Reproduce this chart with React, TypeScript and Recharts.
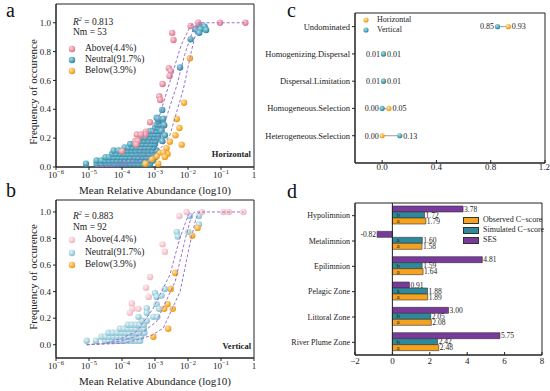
import React from "react";
import {
  Bar,
  BarChart,
  LabelList,
  Legend,
  ReferenceArea,
  ReferenceLine,
  Scatter,
  ScatterChart,
  XAxis,
  YAxis,
} from "recharts";

const FONT = "'Liberation Serif', 'DejaVu Serif', serif";
const INK = "#222";
const ORANGE = "#F5A31E";
const TEAL = "#2E8A9B";
const PURPLE = "#7A3A9C";
const DASH = "#9B72CF";

// ---- panels a / b: x = log10(mean relative abundance), y = frequency of occurence
const logTicks = [-6, -5, -4, -3, -2, -1, 0];
const freqTicks = [0, 0.2, 0.4, 0.6, 0.8, 1.0];

const aboveA: [number, number][] = [
  [-1.69, 1.0], [-1.03, 1.0], [-0.26, 1.0], [-1.92, 0.977], [-2.48, 0.93], [-2.44, 0.88],
  [-2.58, 0.685], [-2.52, 0.665], [-2.56, 0.63], [-2.77, 0.575], [-2.87, 0.49], [-2.84, 0.465],
  [-3.15, 0.31], [-3.28, 0.245], [-3.3, 0.225], [-3.55, 0.225], [-3.42, 0.225], [-3.6, 0.18],
  [-3.52, 0.18], [-3.57, 0.155], [-4.0, 0.11],
];
const neutralTopA: [number, number][] = [
  [-1.66, 0.986], [-1.5, 0.975], [-1.78, 0.955], [-1.7, 0.945], [-1.62, 0.955], [-1.45, 0.95],
  [-1.66, 0.93], [-1.92, 0.885], [-2.24, 0.69], [-2.78, 0.395], [-2.9, 0.335], [-2.75, 0.335],
  [-2.72, 0.29], [-2.8, 0.25], [-2.7, 0.22], [-2.78, 0.18],
];
const neutralRowsA: [number, number[]][] = [
  [0.023, [-5.09, -4.77, -4.62, -4.47, -4.35, -4.22, -4.1, -3.98, -3.86, -3.74, -3.62, -3.5, -3.38, -3.26, -3.15]],
  [0.045, [-4.77, -4.62, -4.5, -4.38, -4.26, -4.14, -4.02, -3.9, -3.78, -3.66, -3.54, -3.42, -3.3, -3.18, -3.06]],
  [0.068, [-4.5, -4.38, -4.25, -4.12, -4.0, -3.88, -3.75, -3.62, -3.5, -3.38, -3.25, -3.12, -3.0]],
  [0.091, [-4.3, -4.18, -4.05, -3.92, -3.8, -3.68, -3.55, -3.42, -3.3, -3.18, -3.05, -2.95]],
  [0.114, [-4.25, -4.1, -3.95, -3.82, -3.7, -3.58, -3.45, -3.32, -3.2, -3.08, -2.95]],
  [0.136, [-3.92, -3.8, -3.68, -3.55, -3.42, -3.3, -3.18, -3.05]],
  [0.159, [-3.75, -3.62, -3.5, -3.38, -3.25, -3.12, -3.0]],
  [0.182, [-3.45, -3.32, -3.2, -3.08, -2.98]],
  [0.205, [-3.4, -3.28, -3.15, -3.02, -2.9]],
  [0.227, [-3.22, -3.1, -3.0, -2.9]],
  [0.25, [-3.15, -3.05, -2.95, -2.85]],
  [0.273, [-3.0, -2.9, -2.8]],
  [0.295, [-2.95, -2.85]],
  [0.318, [-2.9]],
  [0.341, [-2.95]],
];
const belowA: [number, number][] = [
  [-1.94, 0.754], [-2.12, 0.445], [-2.34, 0.333], [-2.26, 0.27], [-2.38, 0.22], [-2.19, 0.155],
  [-2.55, 0.175], [-2.65, 0.13], [-2.62, 0.09], [-2.85, 0.1], [-2.75, 0.1], [-2.7, 0.07],
  [-2.95, 0.075], [-3.1, 0.055], [-2.9, 0.023], [-3.29, 0.023],
];
const upperA: [number, number][] = [
  [-4.8, 0.0], [-4.3, 0.02], [-3.8, 0.05], [-3.45, 0.09], [-3.2, 0.16], [-2.95, 0.29],
  [-2.55, 0.59], [-2.2, 0.85], [-1.92, 0.98], [-1.8, 1.0],
];
const fitA: [number, number][] = [
  [-4.8, 0.0], [-4.2, 0.01], [-3.6, 0.04], [-3.2, 0.1], [-2.95, 0.17], [-2.75, 0.27],
  [-2.55, 0.42], [-2.34, 0.565], [-2.1, 0.78], [-1.82, 0.97], [-1.7, 1.0], [-0.26, 1.0],
];
const lowerA: [number, number][] = [
  [-4.8, 0.0], [-4.0, 0.01], [-3.4, 0.04], [-3.0, 0.09], [-2.75, 0.15], [-2.55, 0.22],
  [-2.14, 0.54], [-1.9, 0.8], [-1.72, 0.97], [-1.62, 1.0],
];

const aboveB: [number, number][] = [
  [-2.04, 1.0], [-1.58, 1.0], [-0.93, 1.0], [-0.76, 1.0], [-0.32, 1.0], [-2.26, 0.97],
  [-2.77, 0.756], [-2.7, 0.7], [-3.15, 0.51], [-3.27, 0.43], [-3.19, 0.36], [-3.7, 0.31],
  [-3.68, 0.27], [-3.76, 0.24], [-3.5, 0.27],
];
const neutralTopB: [number, number][] = [
  [-1.94, 0.97], [-1.67, 0.97], [-1.67, 0.905], [-1.99, 0.85], [-2.34, 0.85], [-2.31, 0.815],
  [-3.0, 0.39], [-2.95, 0.36], [-2.7, 0.42], [-2.8, 0.37], [-2.95, 0.305], [-2.88, 0.27],
  [-3.05, 0.21], [-2.93, 0.21], [-3.25, 0.275], [-3.25, 0.24], [-3.5, 0.21],
];
const neutralRowsB: [number, number[]][] = [
  [0.03, [-5.07, -4.79, -4.52, -4.4, -4.28, -4.16, -4.04, -3.92, -3.8, -3.68, -3.56, -3.45]],
  [0.06, [-4.62, -4.5, -4.38, -4.26, -4.14, -4.02, -3.9, -3.78, -3.66, -3.54, -3.42]],
  [0.09, [-4.41, -4.28, -4.15, -4.02, -3.9, -3.78, -3.66, -3.54, -3.42, -3.32]],
  [0.12, [-4.06, -3.94, -3.82, -3.7, -3.58, -3.46, -3.34]],
  [0.15, [-3.82, -3.7, -3.58, -3.46, -3.34]],
  [0.18, [-3.4, -3.25]],
];
const belowB: [number, number][] = [
  [-1.71, 0.88], [-1.87, 0.82], [-2.39, 0.54], [-2.52, 0.42], [-2.62, 0.306], [-2.72, 0.27],
  [-2.46, 0.27], [-2.6, 0.12], [-3.05, 0.06],
];
const upperB: [number, number][] = [
  [-5.07, 0.0], [-4.5, 0.01], [-4.0, 0.05], [-3.55, 0.1], [-3.05, 0.276], [-2.55, 0.526],
  [-2.25, 0.8], [-1.99, 0.977], [-1.9, 1.0],
];
const fitB: [number, number][] = [
  [-5.07, 0.0], [-4.5, 0.01], [-4.0, 0.03], [-3.5, 0.07], [-2.95, 0.175], [-2.39, 0.476],
  [-2.1, 0.78], [-1.89, 0.977], [-1.8, 1.0], [-0.32, 1.0],
];
const lowerB: [number, number][] = [
  [-5.07, 0.0], [-4.0, 0.01], [-3.5, 0.04], [-3.1, 0.07], [-2.75, 0.125], [-2.24, 0.4],
  [-1.95, 0.75], [-1.76, 0.95], [-1.65, 1.0],
];

// ---- panel c
const processes = [
  "Undominated",
  "Homogenizing.Dispersal",
  "Dispersal.Limitation",
  "Homogeneous.Selection",
  "Heterogeneous.Selection",
];
const horizontalShare = [0.93, 0.01, 0.01, 0.05, 0.0];
const verticalShare = [0.85, 0.01, 0.01, 0.0, 0.13];

// ---- panel d
const zones = ["Hypolimnion", "Metalimnion", "Epilimnion", "Pelagic Zone", "Littoral Zone", "River Plume Zone"];
const observed = [1.79, 1.58, 1.64, 1.89, 2.08, 2.48];
const simulated = [1.72, 1.6, 1.59, 1.88, 2.05, 2.42];
const ses = [3.78, -0.82, 4.81, 0.91, 3.0, 5.75];
const simLetters = ["b", "a", "b", "a", "b", "b"];
const obsLetters = ["a", "a", "a", "a", "a", "a"];

const pts = (arr: [number, number][]) => arr.map(([x, y]) => ({ x, y }));
const rows = (r: [number, number[]][]) => r.flatMap(([y, xs]) => xs.map((x) => ({ x, y })));

const grads: Record<string, [string, string]> = {
  aboveA: ["#FBD6DD", "#DE7187"],
  neutralA: ["#A6DCE9", "#2A88A2"],
  belowA: ["#FFE4A8", "#EF960E"],
  aboveB: ["#FEEEF1", "#F0B3BF"],
  neutralB: ["#E6F5F8", "#82BFD0"],
  dotH: ["#FFE4A8", "#EF960E"],
  dotV: ["#A6DCE9", "#2A88A2"],
};

const ball = (id: string, r = 3.2) => (p: any) =>
  <circle cx={p.cx} cy={p.cy} r={r} fill={`url(#${id})`} />;
const noDot = () => <g />;

const Txt = ({ x, y, size = 9, bold, anchor = "start", children }: any) => (
  <div
    style={{
      position: "absolute",
      left: x,
      top: y - size * 0.51,
      fontSize: size,
      lineHeight: `${size}px`,
      fontWeight: bold ? 700 : 400,
      whiteSpace: "nowrap",
      transform: anchor === "end" ? "translateX(-100%)" : undefined,
      color: INK,
      fontFamily: FONT,
    }}
  >
    {children}
  </div>
);

const Dot = ({ x, y, id, r = 3.2 }: any) => (
  <svg width={10} height={10} style={{ position: "absolute", left: x - 5, top: y - 5 }}>
    <circle cx={5} cy={5} r={r} fill={`url(#${id})`} />
  </svg>
);

const LogTick = ({ x, y, payload }: any) => {
  const v = payload.value;
  return (
    <text x={x} y={y + 6} textAnchor="middle" fontSize={9} fill={INK} fontFamily={FONT}>
      {v === 0 ? "1" : (
        <>
          10
          <tspan dy={-4} fontSize={6.5}>{`−${-v}`}</tspan>
        </>
      )}
    </text>
  );
};

// plain category tick, no wrapping
const CatTick = ({ x, y, payload, size, names }: any) => (
  <text x={x} y={y} dy="0.35em" textAnchor="end" fontSize={size} fill={INK} fontFamily={FONT}>
    {names ? names[5 - payload.value] : payload.value}
  </text>
);

const xTitle = (p: any) => {
  const vb = p.viewBox;
  return (
    <text x={vb.x + vb.width / 2} y={vb.y + 27} textAnchor="middle" fontSize={11} fill={INK} fontFamily={FONT}>
      Mean Relative Abundance (log10)
    </text>
  );
};
const yTitle = () => (
  <text x={37} y={92} transform="rotate(-90, 37, 92)" textAnchor="middle" fontSize={11} fill={INK} fontFamily={FONT}>
    Frequency of occurence
  </text>
);

function NeutralPanel(props: any) {
  const { height, margin, axisH, yDomain, above, neutral, below, curves, g, r2, nm, tag, ys } = props;
  return (
    <ScatterChart width={275} height={height} margin={margin}>
      <XAxis
        type="number"
        dataKey="x"
        domain={[-6, 0]}
        ticks={logTicks}
        tick={<LogTick />}
        height={axisH}
        tickSize={3}
        axisLine={{ stroke: INK }}
        tickLine={{ stroke: INK }}
        allowDataOverflow
        label={xTitle}
      />
      <YAxis
        type="number"
        dataKey="y"
        domain={yDomain}
        ticks={freqTicks}
        tickFormatter={(v: number) => v.toFixed(1)}
        width={56}
        tickSize={3}
        tick={{ fontSize: 9, fill: INK, fontFamily: FONT }}
        axisLine={{ stroke: INK }}
        tickLine={{ stroke: INK }}
        allowDataOverflow
        label={yTitle}
      />
      <ReferenceArea x1={-6} x2={0} y1={yDomain[0]} y2={yDomain[1]} fill="none" fillOpacity={0} stroke={INK} ifOverflow="visible" />
      <Scatter data={neutral} shape={ball(g[1])} isAnimationActive={false} />
      <Scatter data={above} shape={ball(g[0])} isAnimationActive={false} />
      <Scatter data={below} shape={ball(g[2])} isAnimationActive={false} />
      {curves.map((c: any, i: number) => (
        <Scatter
          key={i}
          data={c}
          line={{ stroke: DASH, strokeWidth: 1, strokeDasharray: "3 2" }}
          shape={noDot}
          isAnimationActive={false}
        />
      ))}
      <Legend
        verticalAlign="middle"
        wrapperStyle={{ left: 0, top: 0, width: 275, height, pointerEvents: "none" }}
        content={() => (
          <div style={{ position: "relative", width: 275, height }}>
            <Txt x={73} y={ys[0]} size={9.5}>
              <i>R</i>
              <sup style={{ fontSize: 6, fontStyle: "italic", lineHeight: 0 }}>2</sup> = {r2}
            </Txt>
            <Txt x={73} y={ys[1]} size={9.5}>Nm = {nm}</Txt>
            <Dot x={72} y={ys[2]} id={g[0]} />
            <Txt x={85} y={ys[2]} size={9.5}>Above(4.4%)</Txt>
            <Dot x={72} y={ys[3]} id={g[1]} />
            <Txt x={85} y={ys[3]} size={9.5}>Neutral(91.7%)</Txt>
            <Dot x={72} y={ys[4]} id={g[2]} />
            <Txt x={85} y={ys[4]} size={9.5}>Below(3.9%)</Txt>
            <Txt x={251} y={ys[5]} size={8.5} bold anchor="end">{tag}</Txt>
          </div>
        )}
      />
    </ScatterChart>
  );
}

const dumbbellDot = (id: string) => (p: any) => {
  const left = p.payload.side === "left";
  return (
    <g>
      <circle cx={p.cx} cy={p.cy} r={2.6} fill={`url(#${id})`} />
      <text
        x={left ? p.cx - 3.5 : p.cx + 3.5}
        y={p.cy}
        dy="0.35em"
        textAnchor={left ? "end" : "start"}
        fontSize={8}
        fill={INK}
        fontFamily={FONT}
      >
        {p.payload.x.toFixed(2)}
      </text>
    </g>
  );
};

function ProcessPanel() {
  const hData = horizontalShare.map((x, i) => ({ x, y: 5 - i, side: x >= verticalShare[i] ? "right" : "left" }));
  const vData = verticalShare.map((x, i) => ({ x, y: 5 - i, side: x > horizontalShare[i] ? "right" : "left" }));
  return (
    <ScatterChart width={295} height={185} margin={{ top: 13, right: 5, bottom: 2, left: 0 }}>
      <XAxis
        type="number"
        dataKey="x"
        domain={[-0.2, 1.2]}
        ticks={[0, 0.4, 0.8, 1.2]}
        tickFormatter={(v: number) => v.toFixed(1)}
        height={20}
        tickSize={-3}
        tickMargin={4}
        tick={{ fontSize: 9, fill: INK, fontFamily: FONT }}
        axisLine={{ stroke: INK }}
        tickLine={{ stroke: INK }}
        allowDataOverflow
      />
      <YAxis
        type="number"
        dataKey="y"
        domain={[0, 5.5]}
        ticks={[1, 2, 3, 4, 5]}
        width={100}
        tickSize={3}
        tick={<CatTick size={8.5} names={processes} />}
        axisLine={{ stroke: INK }}
        tickLine={{ stroke: INK }}
        allowDataOverflow
      />
      <ReferenceArea x1={-0.2} x2={1.2} y1={0} y2={5.5} fill="none" fillOpacity={0} stroke={INK} ifOverflow="visible" />
      {processes.map((p, i) => (
        <ReferenceLine
          key={p}
          segment={[
            { x: horizontalShare[i], y: 5 - i },
            { x: verticalShare[i], y: 5 - i },
          ]}
          stroke="#9a9a9a"
          strokeWidth={1}
        />
      ))}
      <Scatter data={hData} shape={dumbbellDot("dotH")} isAnimationActive={false} />
      <Scatter data={vData} shape={dumbbellDot("dotV")} isAnimationActive={false} />
      <Legend
        verticalAlign="middle"
        wrapperStyle={{ left: 0, top: 0, width: 295, height: 185, pointerEvents: "none" }}
        content={() => (
          <div style={{ position: "relative", width: 295, height: 185 }}>
            <Dot x={111} y={20} id="dotH" r={2.6} />
            <Txt x={122} y={20} size={8}>Horizontal</Txt>
            <Dot x={111} y={30} id="dotV" r={2.6} />
            <Txt x={122} y={30} size={8}>Vertical</Txt>
          </div>
        )}
      />
    </ScatterChart>
  );
}

const boxOf = (p: any) => {
  const vb = p.viewBox ?? p;
  return { x: vb.x ?? p.x, y: vb.y ?? p.y, w: vb.width ?? p.width, h: vb.height ?? p.height };
};

const valueLabel = (p: any) => {
  const { x, y, w, h } = boxOf(p);
  const v = Number(p.value);
  const neg = v < 0;
  return (
    <text
      x={neg ? Math.min(x, x + w) - 1 : Math.max(x, x + w) + 1}
      y={y + h / 2}
      dy="0.35em"
      textAnchor={neg ? "end" : "start"}
      fontSize={7.5}
      fill={INK}
      fontFamily={FONT}
    >
      {v.toFixed(2)}
    </text>
  );
};

const letterLabel = (p: any) => {
  const { x, y, w, h } = boxOf(p);
  return (
    <text x={Math.min(x, x + w) + 4} y={y + h / 2} dy="0.3em" fontSize={7} fill={INK} fontFamily={FONT}>
      {p.value}
    </text>
  );
};

const zoneRows = zones.map((zone, i) => ({
  zone,
  ses: ses[i],
  sim: simulated[i],
  obs: observed[i],
  simL: simLetters[i],
  obsL: obsLetters[i],
}));

const cscoreLegend = [
  { name: "Observed C−score", color: ORANGE },
  { name: "Simulated C−score", color: TEAL },
  { name: "SES", color: PURPLE },
];

function CScorePanel() {
  return (
    <BarChart
      layout="vertical"
      width={295}
      height={206}
      data={zoneRows}
      margin={{ top: 18, right: 8, bottom: 16, left: 0 }}
      barCategoryGap={3}
      barGap={0}
    >
      <XAxis
        type="number"
        domain={[-2, 8]}
        ticks={[-2, 0, 2, 4, 6, 8]}
        tickFormatter={(v: number) => (v < 0 ? `−${-v}` : `${v}`)}
        height={20}
        tickSize={-3}
        tickMargin={6}
        tick={{ fontSize: 9, fill: INK, fontFamily: FONT }}
        axisLine={{ stroke: INK }}
        tickLine={{ stroke: INK }}
        allowDataOverflow
      />
      <YAxis
        type="category"
        dataKey="zone"
        width={100}
        tickSize={3}
        tick={<CatTick size={8} />}
        axisLine={{ stroke: INK }}
        tickLine={{ stroke: INK }}
      />
      <ReferenceArea x1={-2} x2={8} fill="none" fillOpacity={0} stroke={INK} ifOverflow="visible" />
      <ReferenceLine x={0} stroke={INK} strokeWidth={1} />
      <Bar dataKey="ses" fill={PURPLE} stroke="#333" strokeWidth={0.6} isAnimationActive={false}>
        <LabelList dataKey="ses" content={valueLabel} />
      </Bar>
      <Bar dataKey="sim" fill={TEAL} stroke="#333" strokeWidth={0.6} isAnimationActive={false}>
        <LabelList dataKey="sim" content={valueLabel} />
        <LabelList dataKey="simL" content={letterLabel} />
      </Bar>
      <Bar dataKey="obs" fill={ORANGE} stroke="#333" strokeWidth={0.6} isAnimationActive={false}>
        <LabelList dataKey="obs" content={valueLabel} />
        <LabelList dataKey="obsL" content={letterLabel} />
      </Bar>
      <Legend
        verticalAlign="middle"
        wrapperStyle={{ left: 0, top: 0, width: 295, height: 206, pointerEvents: "none" }}
        content={() => (
          <div style={{ position: "relative", width: 295, height: 206 }}>
            {cscoreLegend.map((item, i) => (
              <React.Fragment key={item.name}>
                <div
                  style={{
                    position: "absolute",
                    left: 208,
                    top: 35 + i * 10 - 3.5,
                    width: 16,
                    height: 7,
                    boxSizing: "border-box",
                    background: item.color,
                    border: "0.6px solid #333",
                  }}
                />
                <Txt x={228} y={35 + i * 10} size={8}>{item.name}</Txt>
              </React.Fragment>
            ))}
          </div>
        )}
      />
    </BarChart>
  );
}

const Letter = ({ x, y, children }: any) => (
  <div style={{ position: "absolute", left: x, top: y, fontSize: 20, lineHeight: "20px", fontFamily: FONT, color: "#111" }}>
    {children}
  </div>
);

export default function App() {
  return (
    <div
      style={{
        position: "absolute",
        left: 0,
        top: 0,
        width: 550,
        height: 391,
        background: "#fff",
        overflow: "hidden",
        fontFamily: FONT,
      }}
    >
      <svg width={0} height={0} style={{ position: "absolute" }}>
        <defs>
          {Object.entries(grads).map(([id, [hi, base]]) => (
            <radialGradient key={id} id={id} cx="38%" cy="35%" r="65%">
              <stop offset="0%" stopColor={hi} />
              <stop offset="100%" stopColor={base} />
            </radialGradient>
          ))}
        </defs>
      </svg>

      <div style={{ position: "absolute", left: 0, top: 0 }}>
        <NeutralPanel
          height={200}
          margin={{ top: 4, right: 21, bottom: 15, left: 0 }}
          axisH={18}
          yDomain={[0, 1.13]}
          above={pts(aboveA)}
          neutral={[...rows(neutralRowsA), ...pts(neutralTopA)]}
          below={pts(belowA)}
          curves={[pts(upperA), pts(fitA), pts(lowerA)]}
          g={["aboveA", "neutralA", "belowA"]}
          r2="0.813"
          nm="53"
          tag="Horizontal"
          ys={[23, 33, 49, 60, 71, 154]}
        />
      </div>
      <div style={{ position: "absolute", left: 0, top: 185 }}>
        <NeutralPanel
          height={206}
          margin={{ top: 15, right: 21, bottom: 14, left: 0 }}
          axisH={19}
          yDomain={[-0.1, 1.09]}
          above={pts(aboveB)}
          neutral={[...rows(neutralRowsB), ...pts(neutralTopB)]}
          below={pts(belowB)}
          curves={[pts(upperB), pts(fitB), pts(lowerB)]}
          g={["aboveB", "neutralB", "belowA"]}
          r2="0.883"
          nm="92"
          tag="Vertical"
          ys={[32, 43, 55, 68, 80, 161]}
        />
      </div>
      <div style={{ position: "absolute", left: 255, top: 0 }}>
        <ProcessPanel />
      </div>
      <div style={{ position: "absolute", left: 255, top: 185 }}>
        <CScorePanel />
      </div>

      <Letter x={6} y={0}>a</Letter>
      <Letter x={6} y={180}>b</Letter>
      <Letter x={287} y={0}>c</Letter>
      <Letter x={287} y={181}>d</Letter>
    </div>
  );
}
